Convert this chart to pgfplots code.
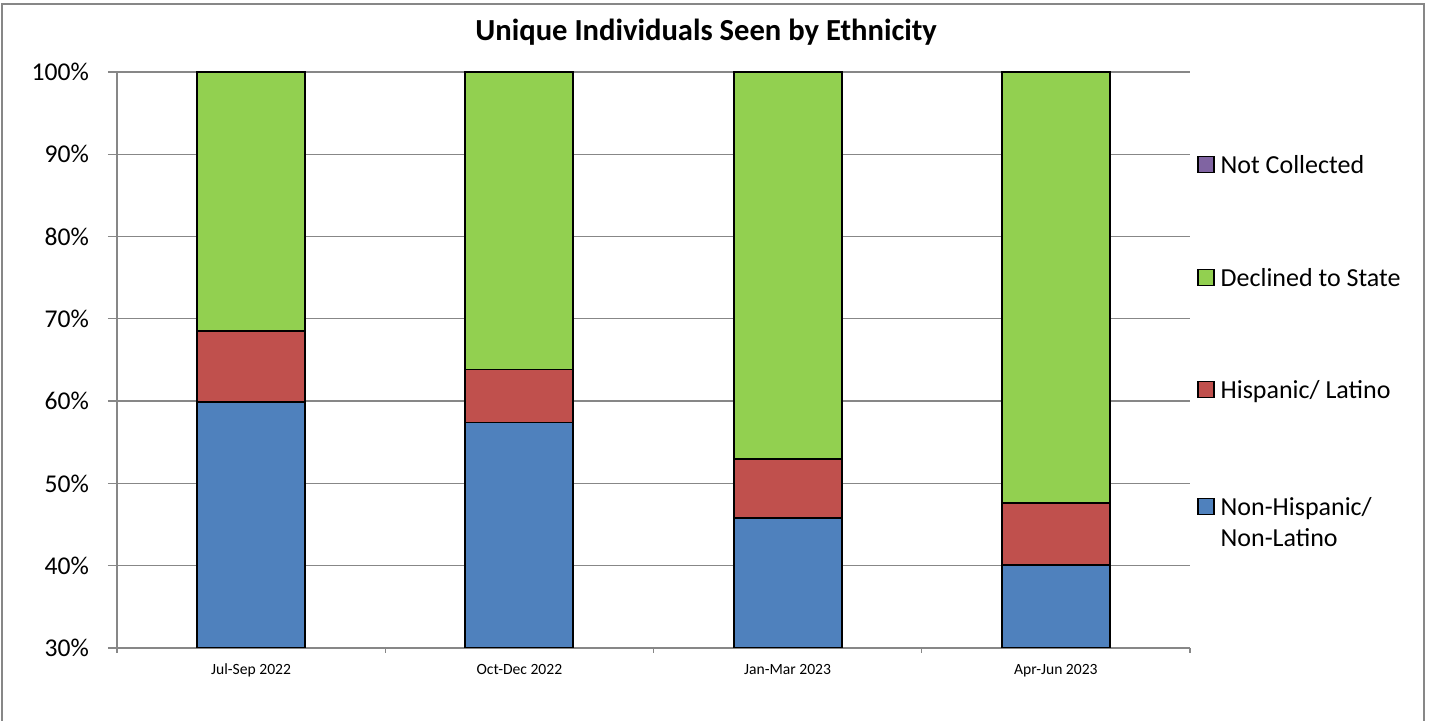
\documentclass[border=0pt]{standalone}
\usepackage{fontspec}
\setmainfont{Carlito}
\usepackage{pgfplots}
\pgfplotsset{compat=1.18}

\definecolor{nonhisp}{HTML}{4F81BD}
\definecolor{hisp}{HTML}{C0504D}
\definecolor{declined}{HTML}{92D050}
\definecolor{notcoll}{HTML}{8064A2}
\definecolor{gridgray}{HTML}{878787}

\pgfplotsset{
  legsq/.style={legend image code/.code={%
      \draw[##1, draw=black, line width=0.6pt] (0pt,0.5pt) rectangle (8pt,8.5pt);}},
}

\begin{document}
\begin{tikzpicture}
\useasboundingbox (-58.5pt,-36.5pt) rectangle (658.5pt,324pt);
% chart frame
\draw[gridgray, line width=0.75pt] (-57.5pt,-45pt) rectangle (653.5pt,322pt);
\begin{axis}[
  scale only axis,
  width=536.5pt, height=288.5pt,
  ybar stacked, bar width=54pt,
  xmin=-0.5, xmax=3.5, ymin=30, ymax=100.12,
  xtick={0,1,2,3},
  xticklabels={Jul-Sep 2022, Oct-Dec 2022, Jan-Mar 2023, Apr-Jun 2023},
  minor xtick={-0.5,0.5,1.5,2.5,3.5},
  ytick={30,40,...,100},
  yticklabel={\pgfmathprintnumber{\tick}\%},
  /pgf/number format/assume math mode=true,
  ymajorgrids,
  grid style={gridgray, line width=0.65pt},
  axis x line*=bottom, axis y line*=left,
  axis line style={gridgray, line width=0.65pt},
  tick align=outside,
  major tick length=4.5pt, minor tick length=2.5pt,
  tick style={gridgray, line width=0.65pt},
  major x tick style={draw=none},
  yticklabel style={font=\fontsize{12.8}{15}\selectfont, anchor=east, xshift=-6pt},
  xticklabel style={font=\fontsize{7.8}{9}\selectfont},
  title={\textbf{Unique Individuals Seen by Ethnicity}},
  title style={font=\fontsize{15.3}{18}\selectfont, at={(0.549,1)}, anchor=center, yshift=13.5pt},
  reverse legend,
  legend style={at={(1,1)}, anchor=north west, xshift=3.5pt, yshift=-42.1pt,
    draw=none, fill=none, inner sep=0pt,
    font=\fontsize{13}{15.8}\selectfont,
    row sep=45.75pt, column sep=3pt,
    cells={anchor=base west},
    nodes={inner sep=0pt}},
]
\addplot[fill=nonhisp, draw=black, line width=0.9pt, legsq]
  coordinates {(0,59.9) (1,57.4) (2,45.8) (3,40.1)};
\addplot[fill=hisp, draw=black, line width=0.9pt, legsq]
  coordinates {(0,8.6) (1,6.45) (2,7.2) (3,7.5)};
\addplot[fill=declined, draw=black, line width=0.9pt, legsq]
  coordinates {(0,31.5) (1,36.15) (2,47.0) (3,52.4)};
\addplot[fill=notcoll, draw=black, line width=0.9pt, legsq]
  coordinates {(0,0) (1,0) (2,0) (3,0)};
\legend{{\begin{tabular}[t]{@{}l@{}}Non-Hispanic/\\Non-Latino\end{tabular}},{Hispanic/ Latino},{Declined to State},{Not Collected}}
\end{axis}
\end{tikzpicture}
\end{document}
